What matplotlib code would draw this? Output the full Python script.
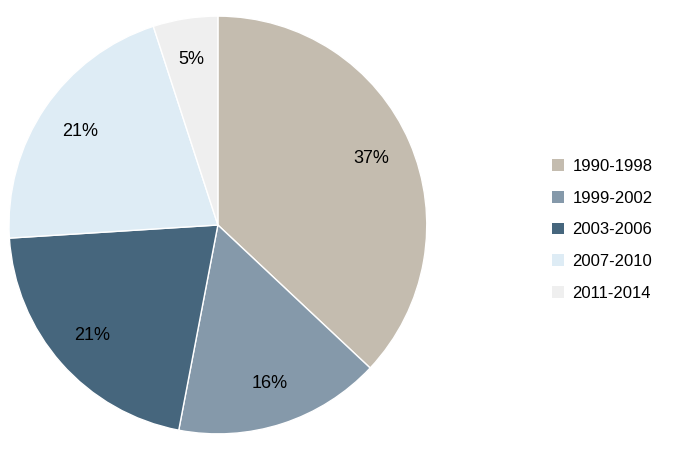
import matplotlib
matplotlib.use("Agg")
import matplotlib.pyplot as plt
from matplotlib.patches import Patch

labels = ["1990-1998", "1999-2002", "2003-2006", "2007-2010", "2011-2014"]
values = [37, 16, 21, 21, 5]
colors = ["#C4BCAF", "#8599AA", "#46667D", "#DEECF5", "#EFEFEF"]

plt.rcParams['font.family'] = ['Liberation Sans', 'DejaVu Sans']
fig = plt.figure(figsize=(6.76, 4.55), dpi=100)
ax = fig.add_axes([0.0133, 0.046, 0.618, 0.919])
ax.pie(values, colors=colors, startangle=90, counterclock=False,
       autopct=lambda p: f"{p:.0f}%", pctdistance=0.8,
       textprops={'fontsize': 13, 'color': 'black'},
       wedgeprops={'edgecolor': 'white', 'linewidth': 1})
ax.set_xlim(-1, 1)
ax.set_ylim(-1, 1)
ax.set_aspect('equal')
handles = [Patch(facecolor=c, edgecolor='none') for c in colors]
fig.legend(handles, labels, loc='center left', bbox_to_anchor=(0.795, 0.495),
           frameon=False, fontsize=12, handlelength=0.7, handleheight=0.7,
           labelspacing=1.0, handletextpad=0.5)
fig.savefig("out.png", dpi=100)
